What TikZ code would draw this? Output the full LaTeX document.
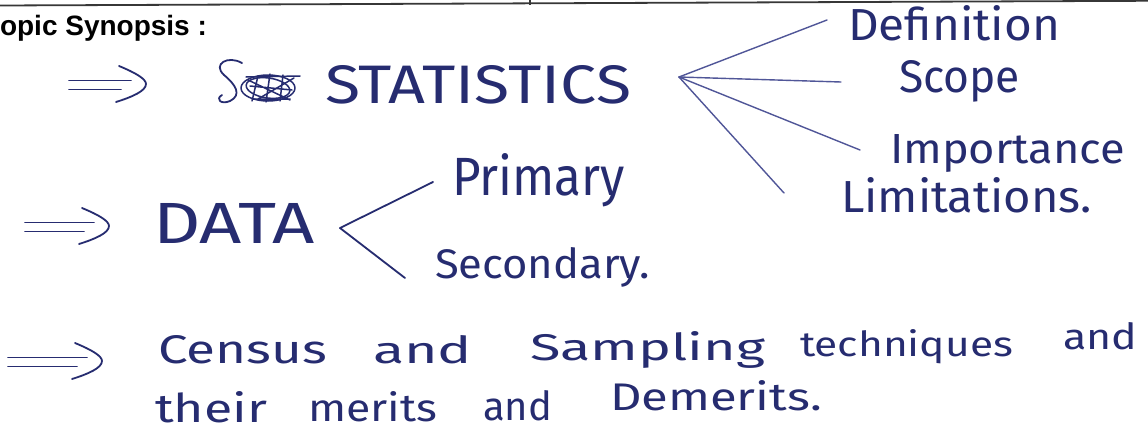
\documentclass[tikz,border=0pt]{standalone}
\usepackage{fontspec}
\usepackage{graphicx}
\setmainfont{Liberation Sans}
\newfontfamily\hand{Fira Sans}
\definecolor{ink}{RGB}{38,44,112}
\definecolor{inkl}{RGB}{80,86,152}
\definecolor{rulegray}{RGB}{55,55,55}
\newcommand{\hw}[3]{\resizebox{#1pt}{#2pt}{\hand #3}}
\newcommand{\imparrow}[3]{%
  \draw[inkline] (#1,#3-4.5) -- (#2-15,#3-4.5);
  \draw[inkline] (#1,#3+4.5) -- (#2-25,#3+4.5);
  \draw[inkline] (#2-27,#3-19) .. controls (#2-10,#3-12) and (#2,#3-6) .. (#2,#3-1)
     .. controls (#2,#3+6) and (#2-14,#3+12) .. (#2-30,#3+17);}
\begin{document}
\begin{tikzpicture}[x=1pt,y=-1pt,
  hand/.style={inner sep=0pt, outer sep=0pt, anchor=base west, text=ink},
  inkline/.style={draw=ink, line width=1.8pt, line cap=round, line join=round},
  branch/.style={draw=inkl, line width=1.4pt, line cap=round},
  dbranch/.style={draw=ink, line width=1.8pt, line cap=round},
  titletext/.style={inner sep=0pt, outer sep=0pt, anchor=base west, font=\bfseries\fontsize{28}{30}\selectfont, text=black}]
\fill[white] (0,0) rectangle (1148,431);
\useasboundingbox (0,0) rectangle (1148,431);
% top rule
\draw[rulegray, line width=1.8pt] (0,5.5) -- (1148,0.8);
\draw[rulegray, line width=1.4pt] (530,0) -- (530,4.5);
% title
\node[titletext] (title) at (0,35) {opic Synopsis :};
% arrows
\imparrow{69}{146}{85}
\imparrow{25}{109}{227}
\imparrow{8}{102}{362}
% scribbled word
\draw[inkline] (242,63) .. controls (228,55) and (212,64) .. (224,75)
  .. controls (236,85) and (242,95) .. (230,101) .. controls (221,105) and (215,99) .. (222,95);
\draw[inkline, line width=1.5pt] (268,88) ellipse [x radius=27, y radius=13];
\draw[inkline, line width=1.5pt, rotate around={-8:(268,88)}] (268,88) ellipse [x radius=22, y radius=10];
\draw[inkline, line width=1.5pt] (246,77) -- (300,76) (252,99) -- (290,99) (250,86) -- (292,90)
  (258,76) -- (252,101) (270,74) -- (266,102) (283,75) -- (280,101) (294,78) -- (258,99) (248,80) -- (290,100);
% STATISTICS
\node[hand] (stat) at (325,103) {\hw{306}{38}{STATISTICS}};
\coordinate (hubS) at (679,77);
\coordinate (eD) at (827,20);
\coordinate (eSc) at (841,82);
\coordinate (eI) at (860,150);
\coordinate (eL) at (784,193);
\draw[branch] (hubS) -- (eD);
\draw[branch] (hubS) -- (eSc);
\draw[branch] (hubS) -- (eI);
\draw[branch] (hubS) -- (eL);
\node[hand] (def) at (848,40) {\hw{212}{35}{Definition}};
\node[hand] (scope) at (899,92) {\hw{121}{32}{Scope}};
\node[hand] (imp) at (890,163) {\hw{235}{29}{Importance}};
\node[hand] (lim) at (841,212) {\hw{251}{35}{Limitations.}};
% DATA
\node[hand] (data) at (153,243) {\hw{162}{40}{DATA}};
\coordinate (hubD) at (340,228);
\coordinate (eP) at (433,182);
\coordinate (eS) at (405,278);
\draw[dbranch] (hubD) -- (eP);
\draw[dbranch] (hubD) -- (eS);
\node[hand] (prim) at (452,195) {\hw{173}{42}{Primary}};
\node[hand] (sec) at (435,278) {\hw{215}{31}{Secondary.}};
% Census line
\node[hand] (w1) at (158,363) {\hw{169}{28}{Census}};
\node[hand] (w2) at (373,363) {\hw{99}{28}{and}};
\node[hand] (w3) at (530,360) {\hw{235}{29}{Sampling}};
\node[hand] (w4) at (800,356) {\hw{213}{27}{techniques}};
\node[hand] (w5) at (1063,349) {\hw{74}{27}{and}};
\node[hand] (w6) at (155,422) {\hw{112}{31}{their}};
\node[hand] (w7) at (308,421) {\hw{129}{30}{merits}};
\node[hand] (w8) at (483,420) {\hw{69}{30}{and}};
\node[hand] (w9) at (610,410) {\hw{212}{30}{Demerits.}};
\end{tikzpicture}
\end{document}
